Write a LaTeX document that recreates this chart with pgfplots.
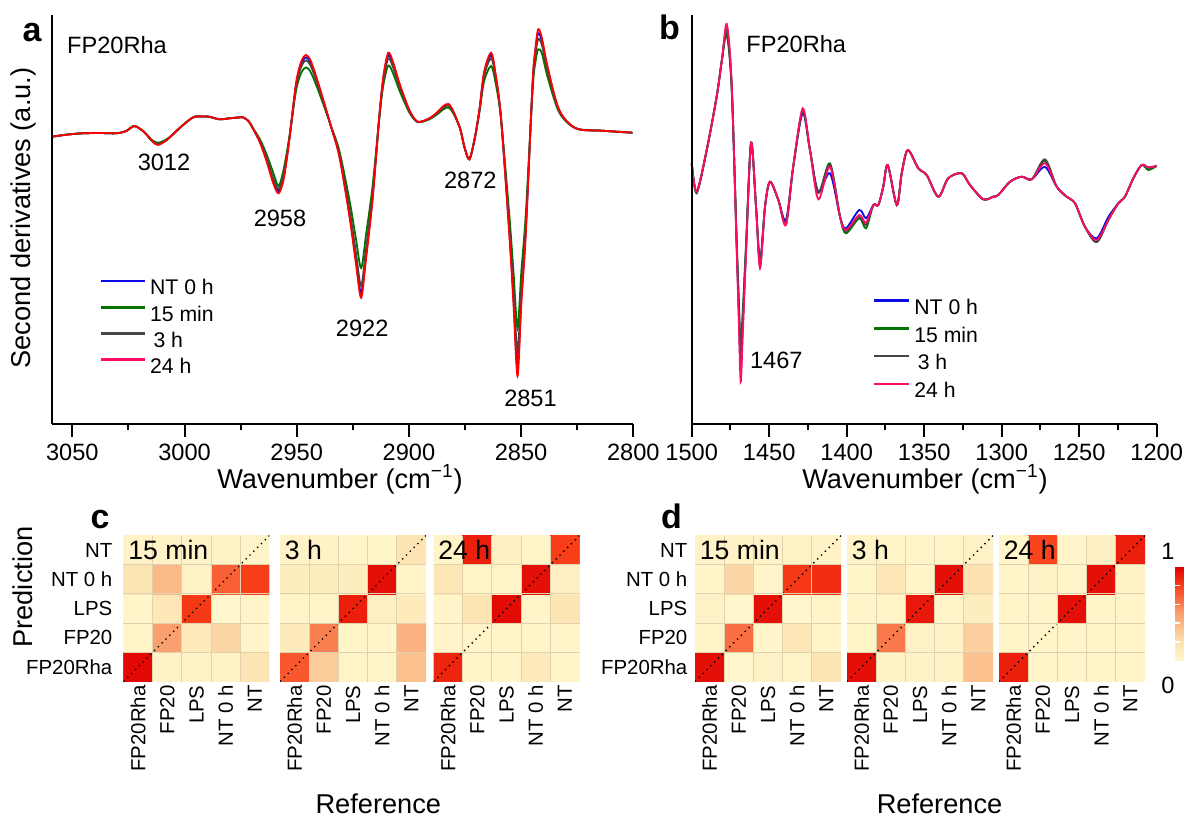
\documentclass[border=0pt]{standalone}
\usepackage{fontspec}
\setmainfont{Liberation Sans}
\usepackage{pgfplots}
\usepackage{pgfplotstable}
\pgfplotsset{compat=1.18}

\newcommand\fA{\fontsize{11.8pt}{14pt}\selectfont}
\newcommand\fL{\fontsize{10.6pt}{12pt}\selectfont}
\newcommand\fM{\fontsize{10.2pt}{12pt}\selectfont}
\newcommand\fT{\fontsize{13.6pt}{16pt}\selectfont}
\newcommand\fH{\fontsize{13.3pt}{16pt}\selectfont}
\newcommand\fP{\fontsize{17pt}{20pt}\selectfont\bfseries}

\definecolor{cblue}{RGB}{10,10,230}
\definecolor{cgreen}{RGB}{0,115,0}
\definecolor{cgray}{RGB}{70,70,70}
\definecolor{cred}{RGB}{255,0,0}
\definecolor{cpink}{RGB}{255,10,100}
\definecolor{gridc}{RGB}{225,210,175}

\pgfplotsset{colormap={hm}{rgb255(0cm)=(255,248,206) rgb255(2cm)=(252,226,176) rgb255(5cm)=(250,160,110) rgb255(8cm)=(248,62,24) rgb255(10cm)=(222,0,0)}}

\pgfplotsset{spec/.style={scale only axis, height=204.5pt, axis x line*=bottom, axis y line=none,
  x dir=reverse, ymin=0, ymax=409, clip=false, axis line style={line width=1pt},
  tick align=outside, major tick length=6.3pt, minor tick length=3.2pt,
  tick style={line width=1pt, black}, minor x tick num=1, xticklabel style={font=\fA},
  /pgf/number format/assume math mode=true, /pgf/number format/1000 sep={},
  legend cell align=left}}

\pgfplotsset{hmstyle/.style={scale only axis, width=73pt, height=73pt, xmin=-0.5, xmax=4.5, ymin=-0.5, ymax=4.5,
  enlargelimits=false, colormap name=hm, point meta min=0, point meta max=1, axis on top,
  axis line style={draw=none}, major tick length=0pt, minor tick length=0pt,
  xtick={0,...,4}, ytick={0,...,4},
  xticklabels={FP20Rha,FP20,LPS,NT 0 h,NT}, yticklabels={FP20Rha,FP20,LPS,NT 0 h,NT},
  minor xtick={0.5,1.5,2.5,3.5}, minor ytick={0.5,1.5,2.5,3.5},
  xminorgrids=true, yminorgrids=true, minor grid style={draw=gridc, line width=0.5pt},
  xticklabel style={rotate=90, anchor=east, font=\fM, inner sep=1.75pt},
  yticklabel style={font=\fM, inner sep=5.4pt}}}

% spectra, panel a: wavenumber, NT 0 h, 15 min, 3 h, 24 h
\pgfplotstableread{
w blue green gray red
3059.2 287.3 287.3 287.3 287.3
3052 289.5 289.5 289.5 289.5
3045.4 290.7 290.7 290.7 290.7
3038 291 291 291 291
3030.4 290.7 290.7 290.7 290.7
3026 293 293 293 293
3022.3 298 298 298 298
3018 292 292 292 292
3014.5 283 284 283 283
3011.9 280 281.3 280 279
3008.5 283 284 283 283
3005 290 290 290 290
3002.2 296 296 296 296
2998.5 303 303 303 303
2995.5 307.3 307.3 307.3 307.3
2991 307.5 307.5 307.5 307.5
2988.9 307.3 307.3 307.3 307.3
2984.4 304.7 304.7 304.7 304.7
2980.0 305.7 305.7 305.7 305.7
2976 306.5 306.5 306.5 306.5
2974.0 306.7 306.7 306.7 306.7
2971.5 303 303 303 303
2969.6 296 296 296 296
2966.5 282.6 285.2 283.4 282
2963.6 265.3 270.5 266.9 264
2960.5 243.1 251.6 245.7 241
2958.1 233 238 235 230.7
2955.8 246.9 254.9 249.4 245
2953.3 284.6 286.9 285.3 284
2950.3 339.3 333.4 337.4 340.7
2948.0 360.1 351.1 357.3 362.3
2945.8 366.6 356.6 363.5 369
2943.6 360.1 351.1 357.3 362.3
2939.9 336.0 330.6 334.3 337.3
2934.7 297.4 297.8 297.5 297.3
2931.0 268.4 273.2 269.9 267.3
2926.5 210.5 224.0 214.7 207.3
2923.6 164.9 185.2 171.2 160
2921.3 131 156 138 126.3
2919.1 169.7 189.3 175.8 165
2916.2 226.7 237.7 230.1 224
2913.2 307.0 306.0 306.7 307.3
2911.4 345.6 338.8 343.5 347.3
2909.2 368.8 358.5 365.6 371.3
2906.9 358.6 349.8 355.8 360.7
2904.2 339.3 333.4 337.4 340.7
2899.8 313.5 311.5 312.9 314
2896.1 302.2 301.9 302.1 302.3
2890.9 305.5 304.7 305.2 305.7
2887.9 310.3 308.8 309.8 310.7
2882.3 319.3 316.4 318.4 320
2877.5 297.4 297.8 297.5 297.3
2875.3 277.3 277.3 277.3 277.3
2873.1 264.7 264.7 264.7 264.7
2870.8 284 284 284 284
2868.6 313.5 311.5 312.9 314
2866.5 350.2 342.6 347.8 352
2863.4 369 358 365.7 371.3
2861.5 350.2 342.6 347.8 352
2859.0 307.0 306.0 306.7 307.3
2855.3 194.5 210.4 199.4 190.7
2853.4 126.3 152.4 134.4 120
2851.6 57.3 95.7 72.3 48
2849.9 126.3 152.4 134.4 120
2847.9 194.5 210.4 199.4 190.7
2844.9 339.3 333.4 337.4 340.7
2843.7 371.4 360.7 368.1 374
2842.4 390.7 374.7 384.7 394.7
2840.7 382.7 370.3 378.8 385.7
2838.2 355.3 347.0 352.7 357.3
2833.0 313.5 311.5 312.9 314
2825.6 295.7 295.7 295.7 295.7
2813.8 293.3 293.3 293.3 293.3
2800.4 291.3 291.3 291.3 291.3
}\spA

% spectra, panel b
\pgfplotstableread{
w blue green gray red
1500.0 260.7 260.7 260.7 260.7
1496.8 232.3 230.7 232 232.3
1490.3 274 274 274 274
1483.9 327.3 327.3 327.3 327.3
1480.6 363 363 363 363
1477.4 392.3 389 394 400
1474.2 337 335 338 340.7
1471.0 180 185 182 176
1469.7 115 130 122 108
1468.4 54 80.7 67.3 42.3
1467.1 95 112 103 88
1465.0 172 178 175 168
1461.7 281.3 281.3 281.3 281.3
1458.5 217.3 217.3 217.3 217.3
1455.9 164 160 158 155.7
1452.7 217.3 217.3 217.3 217.3
1449.5 242.3 242.3 242.3 242.3
1444.1 224 224 224 224
1439.2 204 200 200 199
1434.5 257.3 257.3 257.3 257.3
1428.4 310.7 313 313 315.7
1423.7 274 274 274 274
1418.3 232.3 231.3 231 224.7
1410.8 250.7 260.7 259 257.3
1404.3 207.3 207.3 207.3 207.3
1400.5 195.7 190.7 193 194
1391.9 214 205.7 207 209
1387.5 205.7 195.7 199 201.3
1382.8 219 219 219 219
1379.6 219 219 219 219
1376.4 237.3 237.3 237.3 237.3
1373.5 259 259 259 259
1367.7 219 219 219 219
1364.5 250.7 250.7 250.7 250.7
1360.6 274 274 274 274
1353.8 255.7 255.7 255.7 255.7
1348.4 249 249 249 249
1340.9 227.3 227.3 227.3 227.3
1334.5 245.7 245.7 245.7 245.7
1325.8 250.7 250.7 250.7 250.7
1320.5 239 239 239 239
1311.9 224.7 224.7 224.7 224.7
1305.4 227.3 227.3 227.3 227.3
1302.2 229 229 229 229
1294.6 242.3 242.3 242.3 242.3
1287.1 247.3 247.3 247.3 247.3
1280.6 244.7 244.7 244.7 244.7
1272.1 257 263 264.7 260.7
1264.5 237.3 237.3 237.3 237.3
1258.1 227.3 227.3 227.3 227.3
1252.7 220.7 220.7 220.7 220.7
1246.3 197.3 197.3 197.3 197.3
1238.7 185.7 182 182 184
1231.2 207 204 204 204
1224.8 220.7 220.7 220.7 220.7
1220.5 227.3 227.3 227.3 227.3
1215.1 245.7 245.7 245.7 245.7
1209.7 259 259 259 259
1205.4 256.7 254 256 256.7
1200.0 258 258 258 258
}\spB

% confusion matrices: x = reference (0 FP20Rha,1 FP20,2 LPS,3 NT 0 h,4 NT), y = prediction (same order)
\pgfplotstableread[row sep=\\]{x y c\\
0 0 0.97\\1 0 0.05\\2 0 0.06\\3 0 0.05\\4 0 0.18\\
0 1 0.03\\1 1 0.50\\2 1 0.12\\3 1 0.25\\4 1 0.03\\
0 2 0.03\\1 2 0.15\\2 2 0.82\\3 2 0.02\\4 2 0.03\\
0 3 0.18\\1 3 0.38\\2 3 0.05\\3 3 0.70\\4 3 0.80\\
0 4 0.05\\1 4 0.05\\2 4 0.05\\3 4 0.05\\4 4 0.04\\}\tcA
\pgfplotstableread[row sep=\\]{x y c\\
0 0 0.72\\1 0 0.30\\2 0 0.04\\3 0 0.04\\4 0 0.35\\
0 1 0.12\\1 1 0.60\\2 1 0.03\\3 1 0.03\\4 1 0.42\\
0 2 0.03\\1 2 0.03\\2 2 0.90\\3 2 0.08\\4 2 0.12\\
0 3 0.10\\1 3 0.10\\2 3 0.10\\3 3 0.95\\4 3 0.03\\
0 4 0.05\\1 4 0.05\\2 4 0.03\\3 4 0.03\\4 4 0.18\\}\tcB
\pgfplotstableread[row sep=\\]{x y c\\
0 0 0.88\\1 0 0.03\\2 0 0.03\\3 0 0.12\\4 0 0.03\\
0 1 0.03\\1 1 0.03\\2 1 0.03\\3 1 0.03\\4 1 0.03\\
0 2 0.03\\1 2 0.18\\2 2 0.96\\3 2 0.03\\4 2 0.18\\
0 3 0.15\\1 3 0.04\\2 3 0.04\\3 3 0.95\\4 3 0.08\\
0 4 0.04\\1 4 0.90\\2 4 0.08\\3 4 0.04\\4 4 0.80\\}\tcC
\pgfplotstableread[row sep=\\]{x y c\\
0 0 0.95\\1 0 0.02\\2 0 0.06\\3 0 0.04\\4 0 0.18\\
0 1 0.03\\1 1 0.65\\2 1 0.03\\3 1 0.15\\4 1 0.03\\
0 2 0.06\\1 2 0.02\\2 2 0.95\\3 2 0.02\\4 2 0.03\\
0 3 0.03\\1 3 0.25\\2 3 0.03\\3 3 0.82\\4 3 0.85\\
0 4 0.05\\1 4 0.05\\2 4 0.05\\3 4 0.05\\4 4 0.05\\}\tdA
\pgfplotstableread[row sep=\\]{x y c\\
0 0 0.95\\1 0 0.05\\2 0 0.05\\3 0 0.05\\4 0 0.35\\
0 1 0.03\\1 1 0.62\\2 1 0.06\\3 1 0.05\\4 1 0.28\\
0 2 0.03\\1 2 0.03\\2 2 0.92\\3 2 0.03\\4 2 0.10\\
0 3 0.03\\1 3 0.15\\2 3 0.03\\3 3 0.95\\4 3 0.20\\
0 4 0.05\\1 4 0.04\\2 4 0.04\\3 4 0.04\\4 4 0.06\\}\tdB
\pgfplotstableread[row sep=\\]{x y c\\
0 0 0.90\\1 0 0.03\\2 0 0.03\\3 0 0.03\\4 0 0.03\\
0 1 0.03\\1 1 0.03\\2 1 0.03\\3 1 0.03\\4 1 0.03\\
0 2 0.03\\1 2 0.03\\2 2 0.95\\3 2 0.03\\4 2 0.03\\
0 3 0.03\\1 3 0.06\\2 3 0.03\\3 3 0.95\\4 3 0.05\\
0 4 0.03\\1 4 0.78\\2 4 0.03\\3 4 0.08\\4 4 0.90\\}\tdC

% #1 left edge in pt, #2 table, #3 title, #4 options, #5 title x in px
\newcommand{\hmap}[5]{%
\begin{axis}[hmstyle, at={(#1pt,67.25pt)}, anchor=south west, #4]
\addplot[matrix plot*, mesh/cols=5, point meta=explicit] table[x=x,y=y,meta=c]{#2};
\draw[dotted, line width=0.7pt] (axis cs:-0.5,-0.5) -- (axis cs:4.5,4.5);
\end{axis}
\node[font=\fH, anchor=north west, inner sep=0pt] at (#5,276) {#3};}

\begin{document}
\begin{tikzpicture}[x=0.5pt,y=0.5pt]
\path[use as bounding box] (0,0) rectangle (1184,816);

% ---------- panel a ----------
\begin{axis}[spec, at={(25.85pt,196pt)}, anchor=south west, width=290.8pt,
  xmin=2800, xmax=3059.2, xtick={2800,2850,...,3050},
  legend style={draw=none, fill=none, inner sep=0pt, outer sep=0pt, font=\fL, row sep=3.9pt, column sep=2pt,
    nodes={inner sep=0pt}, at={(axis description cs:0.0826,0.3531)}, anchor=north west},
  legend image code/.code={\draw[#1,line width=1.2pt] (0pt,3.8pt) -- (22pt,3.8pt);}]
\addplot[cblue, line width=0.9pt, smooth] table[x=w,y=blue]{\spA};
\addplot[cgreen, line width=0.9pt, smooth] table[x=w,y=green]{\spA};
\addplot[cgray, line width=0.9pt, smooth] table[x=w,y=gray]{\spA};
\addplot[cred, line width=0.9pt, smooth, forget plot] table[x=w,y=red]{\spA};
\addlegendimage{cpink, line width=0.9pt}
\legend{NT 0 h,15 min,\hspace{1.7pt}3 h,24 h}
\end{axis}
\draw[line width=1pt] (51.7,392) -- (51.7,801);

% ---------- panel b ----------
\begin{axis}[spec, at={(345.85pt,196pt)}, anchor=south west, width=232.5pt,
  xmin=1200, xmax=1500, xtick={1200,1250,...,1500},
  legend style={draw=none, fill=none, inner sep=0pt, outer sep=0pt, font=\fL, row sep=4.7pt, column sep=1.85pt,
    nodes={inner sep=0pt}, at={(axis description cs:0.3892,0.3054)}, anchor=north west},
  legend image code/.code={\draw[#1,line width=1.2pt] (0pt,3.8pt) -- (17.8pt,3.8pt);}]
\addplot[cblue, line width=0.9pt, smooth] table[x=w,y=blue]{\spB};
\addplot[cgreen, line width=0.9pt, smooth] table[x=w,y=green]{\spB};
\addplot[cgray, line width=0.9pt, smooth] table[x=w,y=gray]{\spB};
\addplot[cpink, line width=0.9pt, smooth] table[x=w,y=red]{\spB};
\legend{NT 0 h,15 min,\hspace{1.7pt}3 h,24 h}
\end{axis}
\draw[line width=1pt] (691.7,392) -- (691.7,801);

% ---------- heatmaps ----------
\hmap{61.75}{\tcA}{15 min}{}{128}
\hmap{140}{\tcB}{3 h}{yticklabels={}}{284.5}
\hmap{216.75}{\tcC}{24 h}{yticklabels={}}{438}
\hmap{347.5}{\tdA}{15 min}{yticklabel style={inner sep=3.65pt}}{699.5}
\hmap{423.5}{\tdB}{3 h}{yticklabels={}}{851.5}
\hmap{499.5}{\tdC}{24 h}{yticklabels={}, colorbar, colorbar style={at={(parent axis.north east)}, anchor=north west,
  xshift=6.65pt, yshift=-15.6pt, width=11.35pt, height=47pt, ytick={0.2,0.4,0.6,0.8}, yticklabels={,,,},
  major tick length=2.5pt, tick align=inside, tick style={white, line width=0.8pt}, axis line style={draw=none}}}{1003.5}

% ---------- texts ----------
\node[font=\fP, anchor=base] at (32,774.3) {a};
\node[font=\fP, anchor=base] at (669.5,776) {b};
\node[font=\fP, anchor=base] at (100,288) {c};
\node[font=\fP, anchor=base] at (671.4,288) {d};

\node[font=\fA, anchor=base west, inner sep=0pt] at (66.7,762.7) {FP20Rha};
\node[font=\fA, anchor=base west, inner sep=0pt] at (746,763.7) {FP20Rha};

\node[font=\fA, anchor=base, inner sep=0pt] at (164,645.3) {3012};
\node[font=\fA, anchor=base, inner sep=0pt] at (280,589.3) {2958};
\node[font=\fA, anchor=base, inner sep=0pt] at (362.2,480) {2922};
\node[font=\fA, anchor=base, inner sep=0pt] at (470.3,627.7) {2872};
\node[font=\fA, anchor=base, inner sep=0pt] at (530.5,410) {2851};
\node[font=\fA, anchor=base, inner sep=0pt] at (776.3,447.7) {1467};

\node[font=\fT, rotate=90, anchor=base, inner sep=0pt] at (30.5,598) {Second derivatives (a.u.)};
\node[font=\fT, anchor=base, inner sep=0pt] at (340,328) {Wavenumber (cm\textsuperscript{−1})};
\node[font=\fT, anchor=base, inner sep=0pt] at (925,328) {Wavenumber (cm\textsuperscript{−1})};
\node[font=\fT, rotate=90, anchor=base, inner sep=0pt] at (32.7,229) {Prediction};
\node[font=\fT, anchor=base, inner sep=0pt] at (378.3,3) {Reference};
\node[font=\fT, anchor=base, inner sep=0pt] at (939.5,3) {Reference};

\node[font=\fA, inner sep=0pt] at (1168,264.3) {1};
\node[font=\fA, inner sep=0pt] at (1168,131) {0};
\end{tikzpicture}
\end{document}
